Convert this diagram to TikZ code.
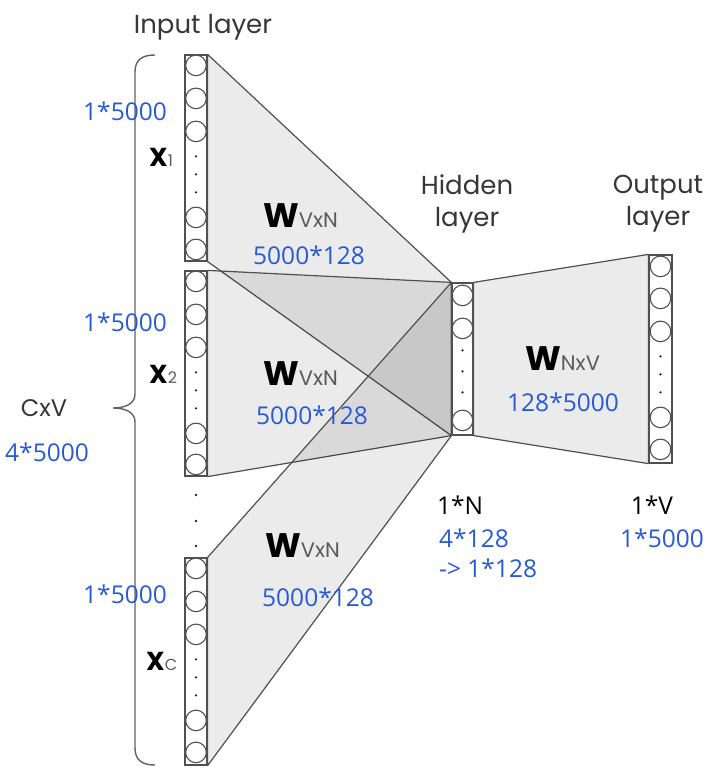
\documentclass[tikz,border=0pt]{standalone}
\usepackage{fontspec}
\newfontfamily\gothic{Poppins}
\newfontfamily\segoe{Open Sans}
\usetikzlibrary{calc}
\definecolor{myblue}{RGB}{40,90,215}
\definecolor{lineg}{RGB}{80,80,80}
\definecolor{txtg}{RGB}{55,55,55}
\definecolor{subg}{RGB}{90,90,90}
\tikzset{
  col/.style={rectangle, draw=lineg, fill=white, line width=1.2pt, minimum width=22pt, inner sep=0pt},
  cell/.style={draw=lineg, fill=white, line width=1.1pt},
  trap/.style={draw=lineg, line width=1.2pt, fill=black, fill opacity=0.08, line join=round},
  dotc/.style={fill=black!85},
  bluelbl/.style={text=myblue, font=\segoe\fontsize{24.5}{28}\selectfont, inner sep=0pt},
  blacklbl/.style={text=black, font=\segoe\fontsize{24.5}{28}\selectfont, inner sep=0pt},
  layerlbl/.style={text=txtg, font=\gothic\fontsize{26}{32}\selectfont, inner sep=0pt, align=center},
  wlbl/.style={anchor=base west, inner sep=0pt, text=black},
  brace/.style={draw=lineg!90, line width=1.4pt}
}
\newcommand\mycolumn[3]{%
  \foreach \r in {#2} \draw[cell] ($(#1.north)+(0,\r)$) circle[radius=10.3pt];
  \foreach \r in {#3} \fill[dotc] ($(#1.north)+(0,\r)$) circle[radius=1.3pt];
}
\newcommand\wsym[1]{{\gothic\bfseries\fontsize{34}{34}\selectfont W}{\color{subg}\gothic\fontsize{21}{21}\selectfont #1}}
\newcommand\xsym[1]{{\gothic\bfseries\fontsize{26}{26}\selectfont X}{\color{subg}\gothic\fontsize{16}{16}\selectfont #1}}
\begin{document}
\begin{tikzpicture}[x=1pt,y=-1pt]
\useasboundingbox (0,0) rectangle (723,783);
% column nodes (positions only first)
\path
  (196,158) node[col, minimum height=206pt, draw=none, fill=none] (x1) {}
  (196,373.5) node[col, minimum height=205pt, draw=none, fill=none] (x2) {}
  (196,661.5) node[col, minimum height=207pt, draw=none, fill=none] (xc) {}
  (462.5,359) node[col, minimum width=21pt, minimum height=152pt, draw=none, fill=none] (hid) {}
  (660.5,359) node[col, minimum width=23pt, minimum height=208pt, draw=none, fill=none] (out) {};
% weight trapezoids
\draw[trap] (x1.north east) -- (hid.north west) -- (hid.south west) -- (x1.south east) -- cycle;
\draw[trap] (x2.north east) -- (hid.north west) -- (hid.south west) -- (x2.south east) -- cycle;
\draw[trap] (xc.north east) -- (hid.north west) -- (hid.south west) -- (xc.south east) -- cycle;
\draw[trap] (hid.north east) -- (out.north west) -- (out.south west) -- (hid.south east) -- cycle;
% columns drawn on top
\node[col, minimum height=206pt] (x1b) at (x1) {};
\node[col, minimum height=205pt] (x2b) at (x2) {};
\node[col, minimum height=207pt] (xcb) at (xc) {};
\node[col, minimum width=21pt, minimum height=152pt] (hidb) at (hid) {};
\node[col, minimum width=23pt, minimum height=208pt] (outb) at (out) {};
\mycolumn{x1}{11,44,77,163,195}{102,120,138}
\mycolumn{x2}{11,44,77,163,194}{102,120,138}
\mycolumn{xc}{11,44,77,163,195}{102,120,138}
\mycolumn{hid}{13,46,138}{68,89,110}
\mycolumn{out}{12,44,77,163,195}{102,120,138}
% dots between x2 and xc
\coordinate (d1) at (196,495);
\coordinate (d2) at (196,521);
\coordinate (d3) at (196,546);
\foreach \d in {d1,d2,d3} \fill[dotc] (\d) circle[radius=1.3pt];
% brace
\coordinate (bt) at (155,55);
\coordinate (bm) at (113,408);
\coordinate (bb) at (155,765);
\draw[brace] (bt) .. controls (142,55) and (135,60) .. (135,72) -- (135,394)
  .. controls (135,404) and (125,408) .. (bm)
  .. controls (125,408) and (135,412) .. (135,422) -- (135,748)
  .. controls (135,760) and (142,765) .. (bb);
% layer labels
\node[layerlbl] (inl) at (203,27) {Input layer};
\node[layerlbl] (hidl) at (467,204) {Hidden\\layer};
\node[layerlbl] (outl) at (658,204) {Output\\layer};
% x labels
\node[wlbl] (x1l) at (149,167) {\xsym{1}};
\node[wlbl] (x2l) at (149,383) {\xsym{2}};
\node[wlbl] (xcl) at (146,670) {\xsym{C}};
% size labels left
\node[bluelbl] (s1) at (125,111) {1*5000};
\node[bluelbl] (s2) at (125,322) {1*5000};
\node[bluelbl] (s3) at (125,594) {1*5000};
\node[text=txtg, font=\gothic\fontsize{24}{26}\selectfont, inner sep=0pt] (cxv) at (44,408) {CxV};
\node[bluelbl] (cv) at (47,452) {4*5000};
% weight labels
\node[wlbl] (w1) at (263,228) {\wsym{VxN}};
\node[bluelbl] (w1s) at (309,255) {5000*128};
\node[wlbl] (w2) at (263,385) {\wsym{VxN}};
\node[bluelbl] (w2s) at (312,415) {5000*128};
\node[wlbl] (w3) at (265,557) {\wsym{VxN}};
\node[bluelbl] (w3s) at (318,597) {5000*128};
\node[wlbl] (w4) at (525,370) {\wsym{NxV}};
\node[bluelbl] (w4s) at (563,402) {128*5000};
% bottom labels
\node[blacklbl, anchor=west] (n1) at (437,505) {1*N};
\node[bluelbl, anchor=west] (n2) at (439,538) {4*128};
\node[bluelbl, anchor=west] (n3) at (439,568) {-> 1*128};
\node[blacklbl] (v1) at (652,505) {1*V};
\node[bluelbl] (v2) at (662,538) {1*5000};
\end{tikzpicture}
\end{document}
